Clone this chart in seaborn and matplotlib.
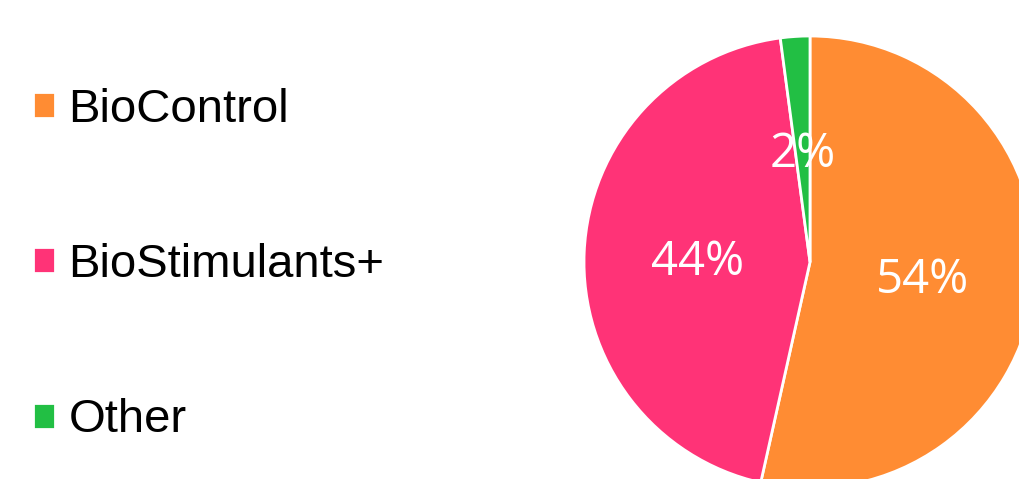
import matplotlib
matplotlib.use("Agg")
import matplotlib.pyplot as plt
import seaborn as sns

categories = ["BioControl", "BioStimulants+", "Other"]
shares = [53.5, 44.4, 2.1]
pct_labels = ["54%", "44%", "2%"]
colors = ["#FF8C33", "#FF3377", "#22BF44"]

sns.set_theme(style="white")
plt.rcParams["font.family"] = ["Liberation Sans", "DejaVu Sans"]

W, H = 1020, 479
fig = plt.figure(figsize=(W / 100, H / 100), dpi=100)
cx, cy, r = 810, 262, 226
ax = fig.add_axes([(cx - r) / W, (H - cy - r) / H, 2 * r / W, 2 * r / H])

wedges, texts, autotexts = ax.pie(
    shares, colors=colors, startangle=90, counterclock=False,
    autopct="%1.0f%%", pctdistance=0.5,
    wedgeprops=dict(edgecolor="white", linewidth=2),
    textprops=dict(color="white", fontsize=34, family=["Open Sans", "DejaVu Sans"]),
)
for t, lab in zip(autotexts, pct_labels):
    t.set_text(lab)
    t.set_va("center_baseline")
ax.set_xlim(-1, 1)
ax.set_ylim(-1, 1)
ax.set_aspect("equal")

leg = fig.legend(
    wedges, categories, loc="center left",
    bbox_to_anchor=(33 / W, (H - 265) / H), bbox_transform=fig.transFigure,
    frameon=False, fontsize=34, labelspacing=2.36,
    handlelength=0.47, handleheight=0.47, handletextpad=0.28,
    borderpad=0, borderaxespad=0,
)
for t in leg.get_texts():
    t.set_color("black")

fig.savefig("out.png", dpi=100)
